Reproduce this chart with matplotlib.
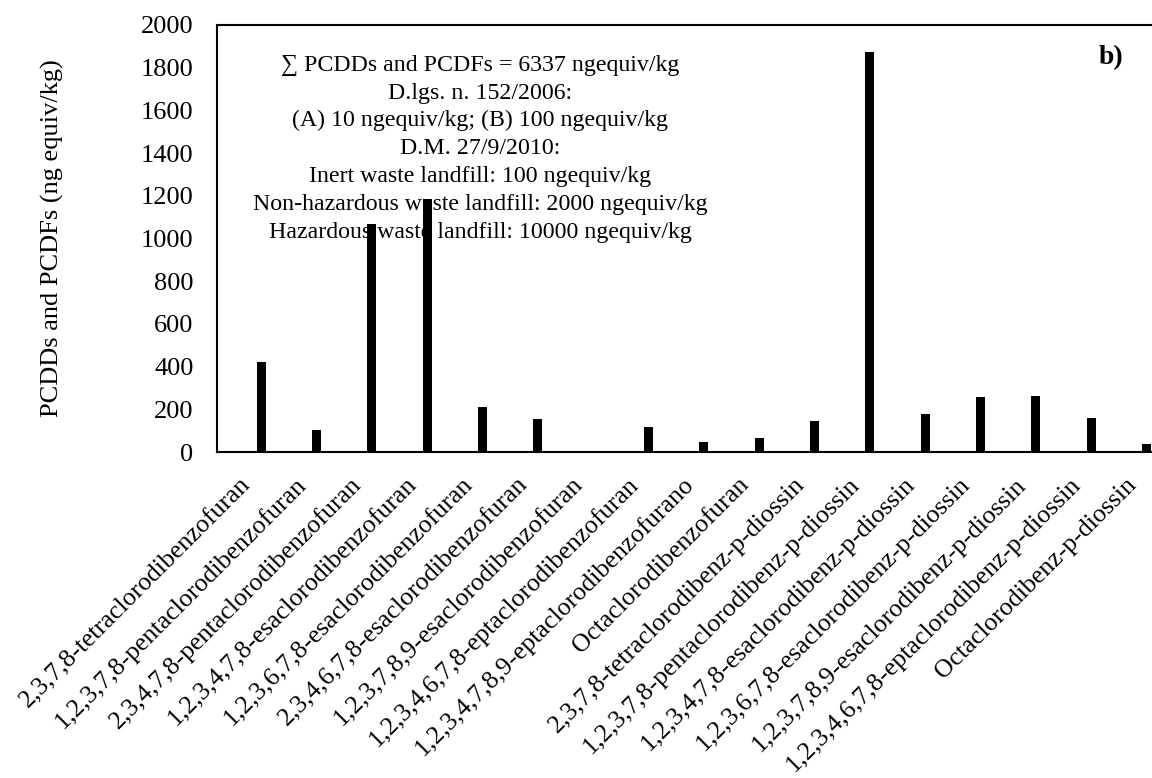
import matplotlib
matplotlib.use("Agg")
import matplotlib.pyplot as plt
import numpy as np

plt.rcParams['font.family'] = ['Liberation Serif', 'DejaVu Serif']

congeners = [
    "2,3,7,8-tetraclorodibenzofuran",
    "1,2,3,7,8-pentaclorodibenzofuran",
    "2,3,4,7,8-pentaclorodibenzofuran",
    "1,2,3,4,7,8-esaclorodibenzofuran",
    "1,2,3,6,7,8-esaclorodibenzofuran",
    "2,3,4,6,7,8-esaclorodibenzofuran",
    "1,2,3,7,8,9-esaclorodibenzofuran",
    "1,2,3,4,6,7,8-eptaclorodibenzofuran",
    "1,2,3,4,7,8,9-eptaclorodibenzofurano",
    "Octaclorodibenzofuran",
    "2,3,7,8-tetraclorodibenz-p-diossin",
    "1,2,3,7,8-pentaclorodibenz-p-diossin",
    "1,2,3,4,7,8-esaclorodibenz-p-diossin",
    "1,2,3,6,7,8-esaclorodibenz-p-diossin",
    "1,2,3,7,8,9-esaclorodibenz-p-diossin",
    "1,2,3,4,6,7,8-eptaclorodibenz-p-diossin",
    "Octaclorodibenz-p-diossin",
]
teq = [421, 103, 1068, 1185, 211, 154, 0, 118, 48, 64, 145, 1874, 178, 258, 262, 159, 37]
yticks = [0, 200, 400, 600, 800, 1000, 1200, 1400, 1600, 1800, 2000]

notes = [
    "\u2211 PCDDs and PCDFs = 6337 ngequiv/kg",
    "D.lgs. n. 152/2006:",
    "(A) 10 ngequiv/kg; (B) 100 ngequiv/kg",
    "D.M. 27/9/2010:",
    "Inert waste landfill: 100 ngequiv/kg",
    "Non-hazardous waste landfill: 2000 ngequiv/kg",
    "Hazardous waste landfill: 10000 ngequiv/kg",
]

fig = plt.figure(figsize=(11.52, 7.78), dpi=100)
ax = fig.add_axes([0.1884, 0.419, 0.8165, 0.5489])

x = np.arange(len(congeners))
ax.bar(x + 0.30, teq, width=0.163, color='black', zorder=3)

ax.set_xlim(-0.5, len(congeners) - 0.5)
ax.set_ylim(0, 2000)
ax.set_yticks(yticks)
ax.tick_params(axis='y', length=0, pad=17, labelsize=19)

ax.set_xticks(x + 0.13)
ax.set_xticklabels(congeners, rotation=45, ha='right', va='baseline',
                   rotation_mode='anchor', fontsize=18.6)
ax.tick_params(axis='x', length=0, pad=24)

for s in ax.spines.values():
    s.set_linewidth(1.5)

ax.set_ylabel("PCDDs and PCDFs (ng equiv/kg)", fontsize=19)
ax.yaxis.set_label_coords(-0.163, 0.5)

# regulatory limits written line by line over the plot
for k, line in enumerate(notes):
    ax.text(0.28, 0.906 - k * 0.0653, line, transform=ax.transAxes,
            ha='center', va='center', fontsize=17.2, zorder=2)

ax.text(0.9505, 0.9227, "b)", transform=ax.transAxes, ha='center',
        va='center', fontsize=20, fontweight='bold')

fig.savefig("out.png", dpi=100)
